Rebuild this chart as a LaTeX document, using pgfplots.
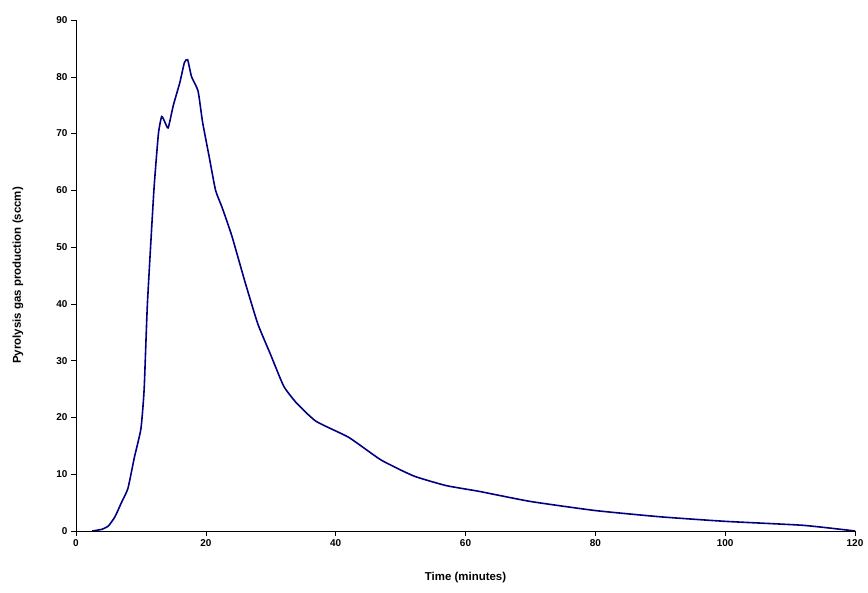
\documentclass[border=0pt]{standalone}
\usepackage{pgfplots}
\pgfplotsset{compat=1.18}
\usepackage{fontspec}
\setmainfont{Liberation Sans}
\begin{document}
\begin{tikzpicture}
\begin{axis}[
  scale only axis, width=779bp, height=511bp,
  xmin=0, xmax=120, ymin=0, ymax=90,
  xtick={0,20,...,120}, ytick={0,10,...,90},
  axis x line*=bottom, axis y line*=left,
  tick align=outside, tick style={black, thin},
  major tick length=5bp,
  axis line style={black, thin},
  every tick label/.style={font=\bfseries\fontsize{10}{12}\selectfont},
  /pgf/number format/assume math mode=true,
  xlabel={Time (minutes)},
  ylabel={Pyrolysis gas production (sccm)},
  label style={font=\bfseries\fontsize{11.5}{13}\selectfont},
  xlabel style={at={(axis description cs:0.5,0)}, anchor=center, yshift=-47bp},
  ylabel style={at={(axis description cs:0,0.5)}, anchor=center, yshift=58bp},
]
\addplot[color={rgb,255:red,0;green,0;blue,128}, line width=1.6pt, smooth, tension=0.3] coordinates {
(2.5,0)(4,0.3)(5,0.9)(6,2.5)(7,5)(8,7.5)(9,13)(10,18)(10.5,25)(11,40)(12,60)(12.7,70)(13.2,73)(13.7,72)(14.2,71)(15,75)(16,79)(16.7,82.5)(17.2,83)(17.8,80)(18.8,77.5)(19.5,72)(20.5,66)(21.5,60)(22.5,57)(24,52)(26,44)(28,36.5)(30,31)(32,25.5)(34,22.5)(37,19.3)(42,16.5)(47,12.5)(52,9.7)(57,8)(62,7)(70,5.2)(80,3.6)(90,2.5)(100,1.7)(112,1.0)(120,0)
};
\end{axis}
\pgfresetboundingbox
\path ([shift={(-76bp,-62bp)}]current axis.south west) rectangle ([shift={(13bp,20bp)}]current axis.north east);
\end{tikzpicture}
\end{document}
